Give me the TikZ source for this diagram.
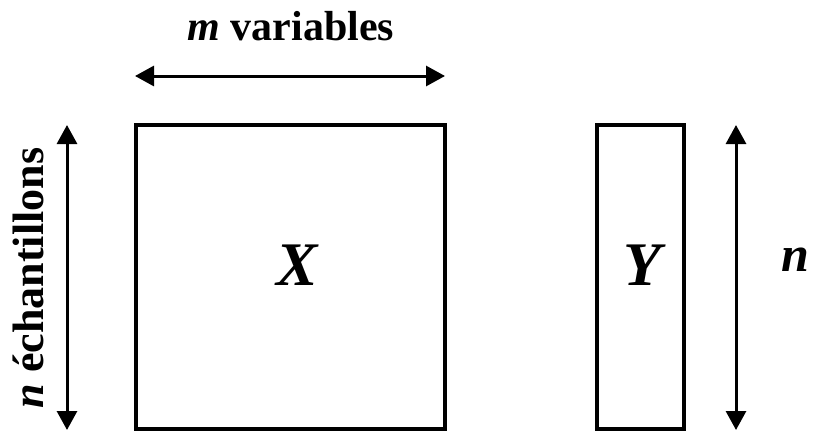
\documentclass[tikz,border=0pt]{standalone}
\usepackage{fontspec}
\setmainfont{Liberation Serif}
\usetikzlibrary{arrows.meta}
\begin{document}
\begin{tikzpicture}[x=1pt,y=-1pt,
  matbox/.style={draw, line width=3.2pt, inner sep=0pt, outer sep=0pt, anchor=north west},
  dimarrow/.style={line width=3pt, {Triangle[length=19pt,width=20pt]}-{Triangle[length=19pt,width=20pt]}},
  lbl/.style={font=\fontsize{42}{50}\selectfont\bfseries, anchor=base, inner sep=0pt},
  big/.style={font=\fontsize{62}{70}\selectfont\bfseries\itshape, anchor=base, inner sep=0pt}]
\useasboundingbox (0,0) rectangle (813,431);
\fill[white] (0,0) rectangle (813,431);
% matrices
\node[matbox, minimum width=309pt, minimum height=304pt] (X) at (136,125) {};
\node[matbox, minimum width=87pt, minimum height=304pt] (Y) at (597,125) {};
\node[big] (xl) at (297,285) {X};
\node[big] (yl) at (642,285) {Y};
% dimension arrows
\coordinate (hl) at (135,76);
\coordinate (hr) at (445,76);
\draw[dimarrow] (hl) -- (hr);
\coordinate (vlt) at (67,125);
\coordinate (vlb) at (67,430);
\draw[dimarrow] (vlt) -- (vlb);
\coordinate (vrt) at (736,125);
\coordinate (vrb) at (736,430);
\draw[dimarrow] (vrt) -- (vrb);
% labels
\node[lbl] (mvar) at (291,40) {\textit{m} variables};
\node[lbl, rotate=90, font=\fontsize{44}{52}\selectfont\bfseries] (nech) at (43,278) {\textit{n} échantillons};
\node[lbl, font=\fontsize{50}{58}\selectfont\bfseries] (nr) at (795,271) {\textit{n}};
\end{tikzpicture}
\end{document}
